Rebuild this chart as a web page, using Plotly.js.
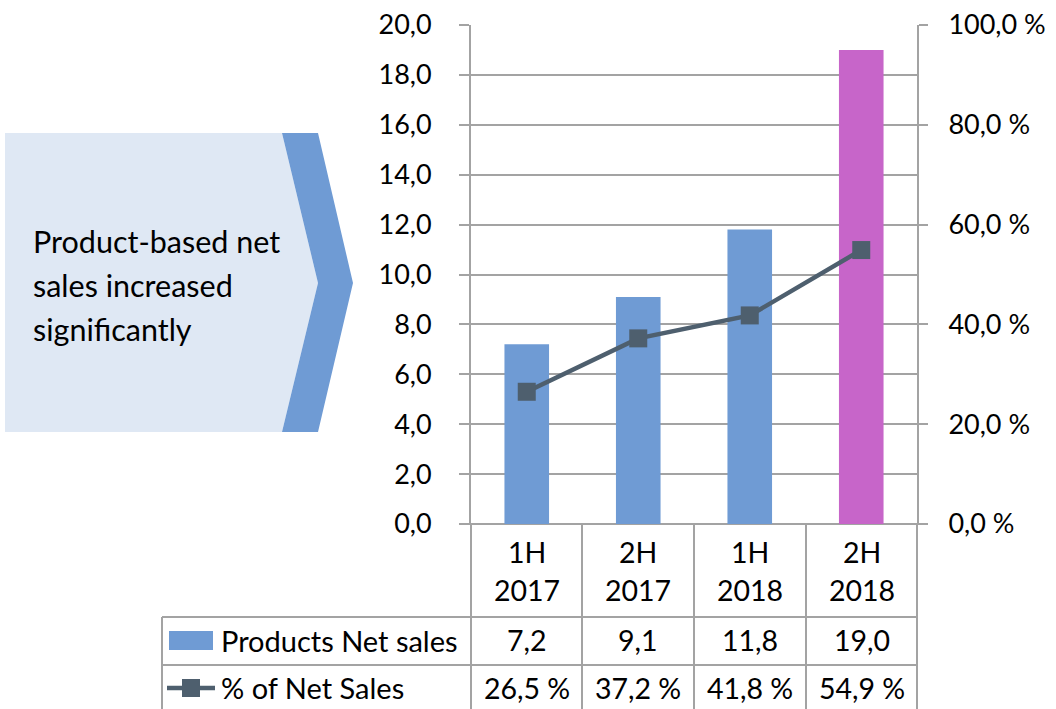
<!DOCTYPE html>
<html><head><meta charset="utf-8">
<script src="https://cdn.plot.ly/plotly-3.0.1.min.js"></script>
<style>html,body{margin:0;padding:0;background:#fff}#c{width:1056px;height:709px}</style>
</head><body><div id="c"></div>
<script>
var periods = ["1H", "2H", "1H", "2H"];
var years = ["2017", "2017", "2018", "2018"];
var netSales = [7.2, 9.1, 11.8, 19.0];
var pctNetSales = [26.5, 37.2, 41.8, 54.9];
var barColors = ["#6f9bd4", "#6f9bd4", "#6f9bd4", "#c765c9"];
var seriesNames = ["Products Net sales", "% of Net Sales"];
var calloutText = ["Product-based net", "sales increased", "significantly"];

var FONT = "Lato, 'Open Sans', sans-serif";
var L = 471, R = 917, T = 25, B = 524, W = 1056, H = 709;
function xp(px){ return (px - L) / (R - L); }
function yp(py){ return (B - py) / (B - T); }
var GRID = "#a3a3a3";

var xs = periods.map(function(_, i){ return i; });

var traces = [
  {type: "bar", x: xs, y: netSales, name: seriesNames[0],
   marker: {color: barColors}, width: 0.4, hoverinfo: "skip"},
  {type: "scatter", mode: "lines+markers", x: xs, y: pctNetSales, yaxis: "y2",
   name: seriesNames[1], line: {color: "#4e5f6e", width: 4.5},
   marker: {symbol: "square", size: 18, color: "#4e5f6e"}, hoverinfo: "skip"}
];

var shapes = [];
var annotations = [];
function hline(x0, x1, y){ shapes.push({type:"line", xref:"paper", yref:"paper", layer:"below", x0:xp(x0), x1:xp(x1), y0:yp(y), y1:yp(y), line:{color:GRID, width:2}}); }
function vline(x, y0, y1){ shapes.push({type:"line", xref:"paper", yref:"paper", layer:"below", x0:xp(x), x1:xp(x), y0:yp(y0), y1:yp(y1), line:{color:GRID, width:2}}); }
function txt(x, y, t, anchor, size){
  annotations.push({xref:"paper", yref:"paper", x:xp(x), y:yp(y), xanchor:anchor, yanchor:"middle",
    text:t, showarrow:false, font:{family:FONT, size:size, color:"#000"}});
}

// callout chevron
shapes.push({type:"path", xref:"paper", yref:"paper", layer:"below",
  path: "M "+xp(5)+" "+yp(133)+" L "+xp(282)+" "+yp(133)+" L "+xp(318)+" "+yp(283)+" L "+xp(282)+" "+yp(432)+" L "+xp(5)+" "+yp(432)+" Z",
  fillcolor:"#dfe8f4", line:{width:0}});
shapes.push({type:"path", xref:"paper", yref:"paper", layer:"below",
  path: "M "+xp(282)+" "+yp(133)+" L "+xp(318)+" "+yp(133)+" L "+xp(353)+" "+yp(283)+" L "+xp(318)+" "+yp(432)+" L "+xp(282)+" "+yp(432)+" L "+xp(318)+" "+yp(283)+" Z",
  fillcolor:"#6f9bd4", line:{width:0}});
calloutText.forEach(function(t, i){ txt(31, 241 + i*44, t, "left", 30.5); });

// table lines
var colEdges = [471, 582, 694, 806, 917];
hline(461, 925, 524);
hline(162, 917, 617);
hline(162, 917, 665);
vline(162, 617, 709);
colEdges.forEach(function(x){ vline(x, 524, 709); });

// legend keys in table
shapes.push({type:"rect", xref:"paper", yref:"paper", x0:xp(169), x1:xp(213), y0:yp(650), y1:yp(631), fillcolor:"#6f9bd4", line:{width:0}});
shapes.push({type:"line", xref:"paper", yref:"paper", x0:xp(167), x1:xp(215), y0:yp(688), y1:yp(688), line:{color:"#4e5f6e", width:4.5}});
shapes.push({type:"rect", xref:"paper", yref:"paper", x0:xp(182), x1:xp(200), y0:yp(697), y1:yp(679), fillcolor:"#4e5f6e", line:{width:0}});
txt(219, 640, seriesNames[0], "left", 29);
txt(219, 688, seriesNames[1], "left", 29);

function fmt(v){ return v.toFixed(1).replace(".", ","); }
xs.forEach(function(i){
  var cx = (colEdges[i] + colEdges[i+1]) / 2;
  txt(cx, 552, periods[i], "center", 28.5);
  txt(cx, 590, years[i], "center", 28.5);
  txt(cx, 640, fmt(netSales[i]), "center", 28.5);
  txt(cx, 688, fmt(pctNetSales[i]) + " %", "center", 28.5);
});

var layout = {
  width: W, height: H, paper_bgcolor:"#fff", plot_bgcolor:"#fff",
  margin: {l:L, r:W-R, t:T, b:H-B, pad:0},
  separators: ", ",
  showlegend: false,
  xaxis: {range:[-0.5, 3.5], showticklabels:false, showgrid:false, zeroline:false, showline:false, ticks:"", fixedrange:true},
  yaxis: {range:[0, 20], dtick:2, tickformat:".1f", ticks:"outside", ticklen:10, tickwidth:2, tickcolor:GRID,
          showline:true, linecolor:GRID, linewidth:2, showgrid:true, gridcolor:GRID, gridwidth:2, zeroline:false,
          tickfont:{family:FONT, size:27, color:"#000"}, ticklabelstandoff:22},
  yaxis2: {range:[0, 100], dtick:20, tickformat:".1f", ticksuffix:" %", overlaying:"y", side:"right",
           ticks:"outside", ticklen:9, tickwidth:2, tickcolor:GRID, showline:true, linecolor:GRID, linewidth:2,
           showgrid:false, zeroline:false, tickfont:{family:FONT, size:27, color:"#000"}, ticklabelstandoff:15},
  shapes: shapes,
  annotations: annotations
};
Plotly.newPlot("c", traces, layout, {staticPlot:true, displayModeBar:false});
</script></body></html>
